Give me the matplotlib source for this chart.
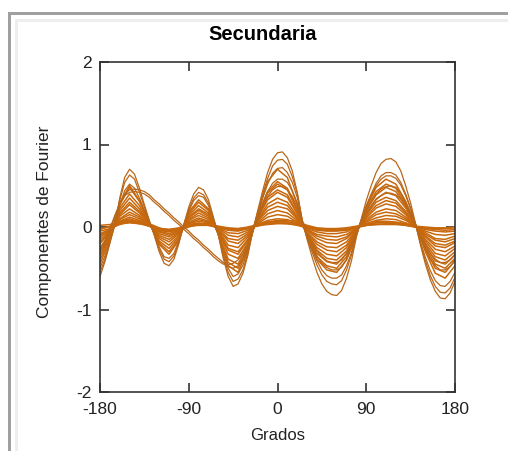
import numpy as np
import matplotlib
matplotlib.use("Agg")
import matplotlib.pyplot as plt
from matplotlib.patches import Rectangle

plt.rcParams['font.family'] = ['Liberation Sans', 'DejaVu Sans']
plt.rcParams['axes.unicode_minus'] = False

# angle grids (degrees): fine one for the outer curves, coarse one for the inner bundle
grados_fino = np.arange(-180, 181, 5)
grados = np.arange(-180, 181, 10)

# outer curves, read every 5 degrees
f01 = [-0.60, -0.42, -0.20, 0.03, 0.35, 0.60, 0.70, 0.64, 0.47, 0.27, 0.08, -0.10,
       -0.30, -0.44, -0.47, -0.39, -0.20, 0.03, 0.24, 0.40, 0.48, 0.45, 0.33, 0.12, -0.10,
       -0.38, -0.60, -0.72, -0.69, -0.56, -0.34, -0.04, 0.20, 0.44, 0.66, 0.82, 0.90,
       0.91, 0.84, 0.68, 0.42, 0.08, -0.15, -0.36, -0.55, -0.69, -0.78, -0.82, -0.83,
       -0.77, -0.62, -0.41, -0.12, 0.10, 0.32, 0.50, 0.66, 0.77, 0.82, 0.83, 0.79,
       0.68, 0.50, 0.29, 0.04, -0.22, -0.45, -0.64, -0.78, -0.86, -0.87, -0.80, -0.66]
f02 = [-0.55, -0.39, -0.18, 0.03, 0.32, 0.54, 0.63, 0.58, 0.42, 0.24, 0.07, -0.09,
       -0.27, -0.39, -0.42, -0.35, -0.18, 0.03, 0.21, 0.35, 0.42, 0.39, 0.29, 0.10, -0.09,
       -0.35, -0.55, -0.66, -0.63, -0.52, -0.31, -0.05, 0.16, 0.40, 0.59, 0.74, 0.81,
       0.82, 0.76, 0.61, 0.41, 0.09, -0.13, -0.30, -0.46, -0.58, -0.66, -0.69, -0.70,
       -0.65, -0.52, -0.34, -0.10, 0.08, 0.26, 0.40, 0.53, 0.62, 0.66, 0.66, 0.63,
       0.54, 0.40, 0.23, 0.03, -0.20, -0.41, -0.59, -0.72, -0.79, -0.80, -0.74, -0.61]
f03 = [-0.50, -0.35, -0.17, 0.02, 0.26, 0.44, 0.52, 0.47, 0.35, 0.20, 0.06, -0.08,
       -0.24, -0.36, -0.38, -0.32, -0.16, 0.02, 0.19, 0.32, 0.38, 0.36, 0.26, 0.09, -0.08,
       -0.32, -0.50, -0.60, -0.57, -0.46, -0.28, -0.05, 0.14, 0.35, 0.52, 0.65, 0.71,
       0.72, 0.66, 0.54, 0.36, 0.08, -0.11, -0.27, -0.41, -0.52, -0.59, -0.62, -0.62,
       -0.58, -0.47, -0.31, -0.09, 0.08, 0.24, 0.38, 0.50, 0.58, 0.62, 0.62, 0.59,
       0.51, 0.38, 0.22, 0.03, -0.18, -0.37, -0.53, -0.65, -0.71, -0.72, -0.66, -0.55]
# the two curves that run diagonally between -140 and -50
d01 = [-0.35, -0.22, -0.05, 0.12, 0.28, 0.40, 0.45, 0.46, 0.45, 0.43, 0.39, 0.33,
       0.28, 0.22, 0.17, 0.11, 0.06, 0.00, -0.05, -0.11, -0.16, -0.22, -0.27, -0.33, -0.38,
       -0.43, -0.48, -0.50, -0.47, -0.38, -0.23, -0.04, 0.12, 0.29, 0.43, 0.53, 0.58,
       0.58, 0.54, 0.44, 0.29, 0.06, -0.10, -0.23, -0.35, -0.44, -0.49, -0.52, -0.52,
       -0.49, -0.39, -0.26, -0.08, 0.06, 0.19, 0.30, 0.40, 0.46, 0.49, 0.50, 0.48,
       0.41, 0.30, 0.17, 0.02, -0.13, -0.27, -0.39, -0.47, -0.52, -0.52, -0.48, -0.40]
d02 = [-0.30, -0.18, -0.02, 0.14, 0.28, 0.38, 0.42, 0.43, 0.42, 0.40, 0.36, 0.30,
       0.25, 0.19, 0.14, 0.08, 0.03, -0.03, -0.08, -0.14, -0.19, -0.25, -0.30, -0.36, -0.41,
       -0.45, -0.46, -0.44, -0.40, -0.32, -0.19, -0.03, 0.10, 0.25, 0.37, 0.45, 0.49,
       0.49, 0.45, 0.37, 0.24, 0.05, -0.08, -0.19, -0.29, -0.36, -0.41, -0.43, -0.43,
       -0.40, -0.32, -0.21, -0.06, 0.05, 0.16, 0.25, 0.33, 0.38, 0.41, 0.41, 0.39,
       0.34, 0.25, 0.14, 0.02, -0.11, -0.22, -0.32, -0.39, -0.43, -0.43, -0.40, -0.33]

# inner curves, read every 10 degrees
c04 = [-0.45, -0.15, 0.29, 0.50, 0.32, 0.06, -0.21, -0.33, -0.16, 0.18, 0.33, 0.22, -0.09, -0.47, -0.55, -0.27, 0.18, 0.55, 0.70,
       0.60, 0.27, -0.12, -0.39, -0.52, -0.55, -0.40, -0.08, 0.24, 0.48, 0.58, 0.52, 0.31, 0.03, -0.30, -0.56, -0.62, -0.47]
c05 = [-0.40, -0.13, 0.27, 0.48, 0.31, 0.05, -0.19, -0.30, -0.14, 0.16, 0.30, 0.20, -0.09, -0.43, -0.50, -0.25, 0.14, 0.43, 0.55,
       0.47, 0.21, -0.11, -0.36, -0.47, -0.50, -0.36, -0.07, 0.21, 0.43, 0.52, 0.47, 0.28, 0.03, -0.27, -0.50, -0.55, -0.41]
c06 = [-0.35, -0.12, 0.23, 0.40, 0.26, 0.04, -0.17, -0.26, -0.12, 0.14, 0.26, 0.17, -0.08, -0.39, -0.45, -0.22, 0.14, 0.41, 0.52,
       0.45, 0.20, -0.10, -0.32, -0.42, -0.45, -0.32, -0.06, 0.20, 0.39, 0.48, 0.43, 0.26, 0.02, -0.25, -0.45, -0.50, -0.38]
c07 = [-0.30, -0.10, 0.20, 0.35, 0.22, 0.04, -0.14, -0.22, -0.10, 0.12, 0.22, 0.15, -0.06, -0.33, -0.38, -0.19, 0.12, 0.36, 0.45,
       0.39, 0.17, -0.09, -0.28, -0.38, -0.40, -0.29, -0.06, 0.17, 0.34, 0.42, 0.38, 0.23, 0.02, -0.22, -0.41, -0.45, -0.34]
c08 = [-0.28, -0.09, 0.17, 0.30, 0.19, 0.03, -0.12, -0.18, -0.08, 0.11, 0.20, 0.13, -0.06, -0.28, -0.33, -0.16, 0.11, 0.33, 0.42,
       0.36, 0.16, -0.08, -0.25, -0.33, -0.35, -0.25, -0.05, 0.15, 0.30, 0.36, 0.32, 0.19, 0.02, -0.20, -0.36, -0.40, -0.30]
c09 = [-0.25, -0.08, 0.15, 0.27, 0.17, 0.03, -0.10, -0.15, -0.07, 0.09, 0.17, 0.11, -0.05, -0.26, -0.30, -0.15, 0.09, 0.28, 0.35,
       0.30, 0.13, -0.07, -0.21, -0.28, -0.30, -0.22, -0.04, 0.13, 0.26, 0.32, 0.29, 0.17, 0.02, -0.17, -0.32, -0.35, -0.26]
c10 = [-0.20, -0.07, 0.13, 0.22, 0.14, 0.02, -0.08, -0.12, -0.06, 0.08, 0.14, 0.09, -0.04, -0.22, -0.25, -0.12, 0.08, 0.24, 0.30,
       0.26, 0.11, -0.06, -0.18, -0.24, -0.25, -0.18, -0.04, 0.11, 0.23, 0.28, 0.25, 0.15, 0.01, -0.15, -0.27, -0.30, -0.23]
c11 = [-0.18, -0.06, 0.10, 0.18, 0.12, 0.02, -0.06, -0.10, -0.05, 0.06, 0.11, 0.07, -0.03, -0.17, -0.20, -0.10, 0.07, 0.20, 0.25,
       0.22, 0.10, -0.04, -0.14, -0.19, -0.20, -0.14, -0.03, 0.09, 0.18, 0.22, 0.20, 0.12, 0.01, -0.12, -0.23, -0.25, -0.19]
c12 = [-0.15, -0.05, 0.09, 0.15, 0.10, 0.02, -0.05, -0.08, -0.04, 0.05, 0.09, 0.06, -0.03, -0.14, -0.16, -0.08, 0.05, 0.16, 0.20,
       0.17, 0.08, -0.04, -0.11, -0.15, -0.16, -0.12, -0.02, 0.07, 0.15, 0.18, 0.16, 0.10, 0.01, -0.11, -0.20, -0.22, -0.17]
c13 = [-0.12, -0.04, 0.07, 0.12, 0.08, 0.01, -0.04, -0.06, -0.03, 0.04, 0.07, 0.05, -0.02, -0.10, -0.12, -0.06, 0.04, 0.12, 0.15,
       0.13, 0.06, -0.03, -0.09, -0.11, -0.12, -0.09, -0.02, 0.06, 0.11, 0.14, 0.13, 0.08, 0.01, -0.09, -0.16, -0.18, -0.14]
c14 = [-0.10, -0.03, 0.06, 0.10, 0.06, 0.01, -0.03, -0.05, -0.02, 0.03, 0.05, 0.03, -0.01, -0.07, -0.08, -0.04, 0.03, 0.08, 0.10,
       0.09, 0.04, -0.02, -0.06, -0.08, -0.08, -0.06, -0.01, 0.04, 0.08, 0.10, 0.09, 0.05, 0.01, -0.07, -0.14, -0.15, -0.11]
c15 = [-0.08, -0.03, 0.05, 0.08, 0.05, 0.01, -0.03, -0.04, -0.02, 0.02, 0.04, 0.03, -0.01, -0.04, -0.05, -0.02, 0.02, 0.06, 0.07,
       0.06, 0.03, -0.01, -0.04, -0.05, -0.05, -0.04, -0.01, 0.02, 0.05, 0.06, 0.05, 0.03, 0.00, -0.05, -0.09, -0.10, -0.08]
c16 = [-0.05, -0.02, 0.03, 0.06, 0.04, 0.01, -0.02, -0.03, -0.01, 0.02, 0.03, 0.02, -0.01, -0.03, -0.03, -0.01, 0.01, 0.04, 0.05,
       0.04, 0.02, -0.01, -0.02, -0.03, -0.03, -0.02, 0.00, 0.02, 0.03, 0.04, 0.04, 0.02, 0.00, -0.03, -0.05, -0.06, -0.05]
c17 = [-0.02, 0.00, 0.04, 0.05, 0.04, 0.02, -0.02, -0.03, -0.02, 0.01, 0.02, 0.02, 0.00, -0.02, -0.02, -0.01, 0.02, 0.03, 0.04,
       0.04, 0.03, 0.00, -0.02, -0.02, -0.02, -0.02, 0.00, 0.02, 0.03, 0.03, 0.03, 0.02, 0.00, -0.02, -0.03, -0.04, -0.03]
c18 = [-0.03, 0.01, 0.05, 0.07, 0.06, 0.03, -0.03, -0.05, -0.04, 0.00, 0.03, 0.03, 0.00, -0.03, -0.04, -0.02, 0.02, 0.05, 0.06,
       0.06, 0.05, 0.01, -0.03, -0.04, -0.04, -0.03, 0.00, 0.03, 0.05, 0.05, 0.05, 0.03, 0.00, -0.01, -0.02, -0.02, -0.01]
c19 = [0.02, 0.03, 0.06, 0.08, 0.07, 0.04, -0.01, -0.04, -0.03, 0.01, 0.04, 0.04, 0.01, -0.01, -0.02, 0.00, 0.03, 0.06, 0.08,
       0.08, 0.07, 0.02, -0.01, -0.02, -0.02, -0.01, 0.01, 0.04, 0.07, 0.07, 0.06, 0.04, 0.01, 0.00, -0.01, -0.01, 0.00]

curvas_finas = [f01, f02, f03, d01, d02]
curvas = [c04, c05, c06, c07, c08, c09, c10, c11, c12, c13, c14, c15, c16, c17, c18, c19]

x_ticks = [-180, -90, 0, 90, 180]
y_ticks = [-2, -1, 0, 1, 2]

W, H = 508, 451
fig = plt.figure(figsize=(W / 100, H / 100), dpi=100)
fig.patch.set_facecolor('white')

# page frame (grey outer line, light inner line)
fig.add_artist(Rectangle((8 / W, 0), 3 / W, 439 / H, transform=fig.transFigure, color='#a0a0a0', lw=0))
fig.add_artist(Rectangle((8 / W, 436 / H), 500 / W, 3 / H, transform=fig.transFigure, color='#a0a0a0', lw=0))
fig.add_artist(Rectangle((15 / W, 0), 3 / W, 432 / H, transform=fig.transFigure, color='#eeeeee', lw=0))
fig.add_artist(Rectangle((15 / W, 429 / H), 493 / W, 3 / H, transform=fig.transFigure, color='#eeeeee', lw=0))

ax = fig.add_axes([100 / W, 59 / H, 355 / W, 330 / H])
for c in curvas:
    ax.plot(grados, c, color='#c8680c', lw=1.1)
for c in curvas_finas:
    ax.plot(grados_fino, c, color='#b8671a', lw=0.9)

ax.set_xlim(-180, 180)
ax.set_ylim(-2, 2)
ax.set_xticks(x_ticks)
ax.set_yticks(y_ticks)
ax.tick_params(direction='in', length=6.5, width=1.2, color='#333333', top=True, right=True,
               labelsize=12.5, labelcolor='#222222')
ax.tick_params(axis='x', pad=7)
ax.tick_params(axis='y', pad=6)
for s in ax.spines.values():
    s.set_color('#333333')
    s.set_linewidth(1.2)

ax.set_xlabel('Grados', fontsize=12, color='#222222')
ax.set_ylabel('Componentes de Fourier', fontsize=12.5, color='#222222')
ax.xaxis.set_label_coords(0.5, -0.109)
ax.yaxis.set_label_coords(-0.135, 0.515)

fig.text(263 / W, 1 - 35 / H, 'Secundaria', fontsize=14.5, fontweight='bold', ha='center', va='center')

fig.savefig('out.png', dpi=100)
